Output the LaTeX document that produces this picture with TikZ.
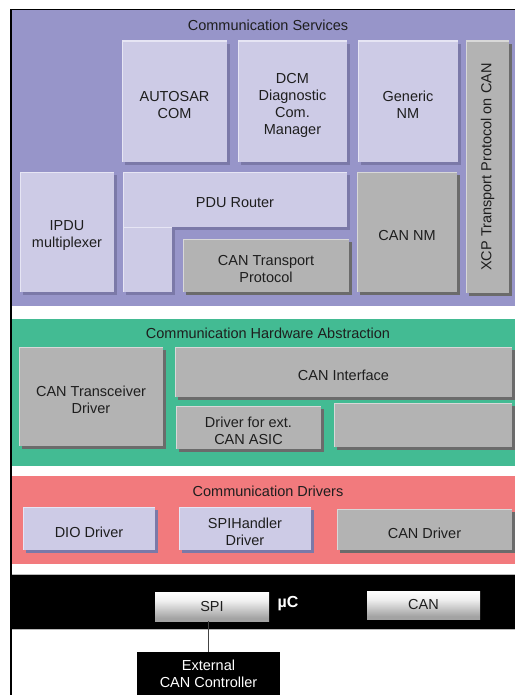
\documentclass[tikz,border=0pt]{standalone}
\usepackage{fontspec}
\setmainfont{Liberation Sans}
\usetikzlibrary{shadows}

\definecolor{svcpanel}{HTML}{9795C9}
\definecolor{hwpanel}{HTML}{43BB93}
\definecolor{drvpanel}{HTML}{F27A7D}
\definecolor{lavfill}{HTML}{CDCBE6}
\definecolor{lavshadow}{HTML}{7B79A8}
\definecolor{lavlight}{HTML}{E6E5F4}
\definecolor{greyfill}{HTML}{B3B3B3}
\definecolor{greyshadow}{HTML}{6B6B6B}
\definecolor{greylight}{HTML}{D8D8D8}
\definecolor{inktext}{HTML}{1E1E1E}
\definecolor{wirecol}{HTML}{444444}

% metallic look of the controller ports
\pgfdeclareverticalshading{portshade}{100bp}{%
  color(0bp)=(black!36); color(30bp)=(black!36); color(60bp)=(black!6);
  color(76bp)=(white); color(86bp)=(white); color(100bp)=(black!16)}

\tikzset{
  labelfont/.style={font=\fontsize{14.5}{17}\selectfont},
  modbox/.style={rectangle, inner sep=0pt, outer sep=0pt},
  boxtext/.style={inner sep=0pt, align=center, text=inktext, labelfont},
  lavbox/.style={modbox, fill=lavfill,
    drop shadow={fill=lavshadow, opacity=1, shadow xshift=3pt, shadow yshift=-3pt},
    path picture={\draw[lavlight, line width=2.6pt]
      (path picture bounding box.south west) -- (path picture bounding box.north west)
      -- (path picture bounding box.north east);}},
  greybox/.style={modbox, fill=greyfill,
    drop shadow={fill=greyshadow, opacity=1, shadow xshift=3pt, shadow yshift=-3pt},
    path picture={\draw[greylight, line width=2.6pt]
      (path picture bounding box.south west) -- (path picture bounding box.north west)
      -- (path picture bounding box.north east);}},
  paneltitle/.style={text=inktext, labelfont, inner sep=0pt},
  portbox/.style={rectangle, inner sep=0pt, outer sep=0pt, text=inktext, labelfont,
    shading=portshade},
  darkbox/.style={rectangle, inner sep=0pt, outer sep=0pt, fill=black, text=white,
    align=center, labelfont},
  wire/.style={draw=wirecol, line width=1.2pt},
}

% empty box placed by its corners: name, style, x1, y1, x2, y2
\newcommand\emptybox[6]{%
  \node[#2, minimum width={#5-#3}, minimum height={#6-#4}] (#1)
    at ({(#3+#5)/2},{(#4+#6)/2}) {};}
% module box with its caption set slightly below the middle
\newcommand\modnode[7]{%
  \emptybox{#1}{#2}{#3}{#4}{#5}{#6}
  \node[boxtext] (#1-text) at ([yshift=-3.5pt]#1.center) {#7};}
% box with its text centred inside the node itself
\newcommand\plainnode[7]{%
  \node[#2, minimum width={#5-#3}, minimum height={#6-#4}] (#1)
    at ({(#3+#5)/2},{(#4+#6)/2}) {#7};}

\begin{document}
\begin{tikzpicture}[x=1pt, y=-1pt]
\useasboundingbox (0,0) rectangle (515,695);

% layer backgrounds
\fill[svcpanel] (12,10.5) rectangle (515,306);
\fill[hwpanel]  (12,319) rectangle (515,466);
\fill[drvpanel] (12,476) rectangle (515,564);
\fill[black]    (12,574.5) rectangle (515,629);
\draw[gray!55, line width=0.8pt] (12,574.3) -- (515,574.3);
\draw[gray!55, line width=0.8pt] (12,629.4) -- (515,629.4);

% outer frame
\draw[black, line width=1.5pt] (11,695) -- (11,9.5) -- (515,9.5);

% Communication Services
\node[paneltitle] (svctitle) at (268,25) {Communication Services};
\modnode{autosarcom}{lavbox}{122}{41}{227}{162}{AUTOSAR\\COM}
\modnode{dcm}{lavbox}{238}{41}{347}{162}{DCM\\Diagnostic\\Com.\\Manager}
\modnode{gennm}{lavbox}{358}{41}{458}{162}{Generic\\NM}
\emptybox{xcp}{greybox}{466}{41}{509}{293}
\node[paneltitle, rotate=90] (xcplabel) at (xcp.center) {XCP Transport Protocol on CAN};
\modnode{ipdu}{lavbox}{20}{172}{114}{292}{IPDU\\multiplexer}
\modnode{pdurouter}{lavbox}{123}{172}{347}{227}{PDU Router}
\emptybox{pduleg}{lavbox}{123}{227}{172}{292}
\modnode{cantp}{greybox}{183}{239}{349}{292}{CAN Transport\\Protocol}
\modnode{cannm}{greybox}{357}{172}{457}{292}{CAN NM}

% Communication Hardware Abstraction
\node[paneltitle] (hwtitle) at (268,333) {Communication Hardware Abstraction};
\modnode{cantrcv}{greybox}{19}{347}{163}{446}{CAN Transceiver\\Driver}
\modnode{canif}{greybox}{175}{347}{512}{397}{CAN Interface}
\modnode{extasic}{greybox}{176}{406}{321}{449}{Driver for ext.\\CAN ASIC}
\emptybox{spare}{greybox}{334}{403}{512}{447}

% Communication Drivers
\node[paneltitle] (drvtitle) at (268,491) {Communication Drivers};
\modnode{dio}{lavbox}{23}{507}{155}{550}{DIO Driver}
\modnode{spihandler}{lavbox}{179}{507}{311}{550}{SPIHandler\\Driver}
\modnode{candrv}{greybox}{337}{509}{512}{550}{CAN Driver}

% microcontroller
\plainnode{spi}{portbox}{155}{592}{269}{621}{SPI}
\plainnode{canport}{portbox}{367}{591}{480}{619}{CAN}
\node[text=white, inner sep=0pt, font=\fontsize{16}{18}\selectfont\bfseries] (uc) at (288,604) {µC};

% external controller
\plainnode{extctrl}{darkbox}{137}{652}{280}{696}{External\\CAN Controller}
\draw[wire] (spi.south -| extctrl.north) -- (extctrl.north);
\end{tikzpicture}
\end{document}
